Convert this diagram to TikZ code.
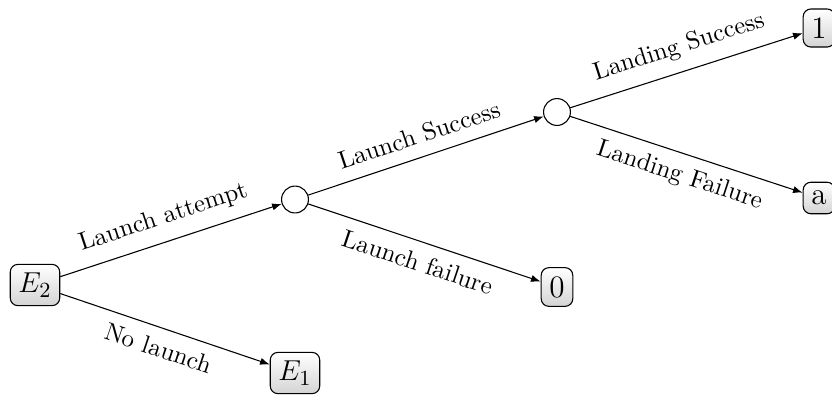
\documentclass[tikz,border=0pt]{standalone}
\usetikzlibrary{arrows.meta,shadings}
\begin{document}
\begin{tikzpicture}[x=0.41667pt,y=-0.41667pt,
  leaf/.style={draw,rounded corners=3.2pt,top color=white,bottom color=black!17,
    font=\fontsize{13}{15.6}\selectfont,inner xsep=3.4pt,inner ysep=3.6pt,line width=0.45pt},
  chance/.style={draw,circle,minimum size=11.2pt,inner sep=0pt,line width=0.45pt},
  edge/.style={-{Latex[length=4pt,width=3pt]},line width=0.45pt},
  lab/.style={sloped,font=\fontsize{10.4}{12.5}\selectfont}]
\useasboundingbox (0,0) rectangle (832,394);
\node[leaf] (E2) at (35,285) {$E_2$};
\node[chance] (A) at (295,199.5) {};
\node[chance] (B) at (557,112) {};
\node[leaf] (E1) at (295,373) {$E_1$};
\node[leaf] (Z) at (557,287) {0};
\node[leaf] (O) at (819,28) {1};
\node[leaf] (L) at (819,198) {a};
\draw[edge] (E2) -- node[lab,above=1.8pt,pos=0.5] {Launch attempt} (A);
\draw[edge] (E2) -- node[lab,below=1.2pt,pos=0.5] {No launch} (E1);
\draw[edge] (A) -- node[lab,above=1.8pt,pos=0.5] {Launch Success} (B);
\draw[edge] (A) -- node[lab,below=1.2pt,pos=0.5] {Launch failure} (Z);
\draw[edge] (B) -- node[lab,above=1.8pt,pos=0.5] {Landing Success} (O);
\draw[edge] (B) -- node[lab,below=1.2pt,pos=0.5] {Landing Failure} (L);
\end{tikzpicture}
\end{document}
